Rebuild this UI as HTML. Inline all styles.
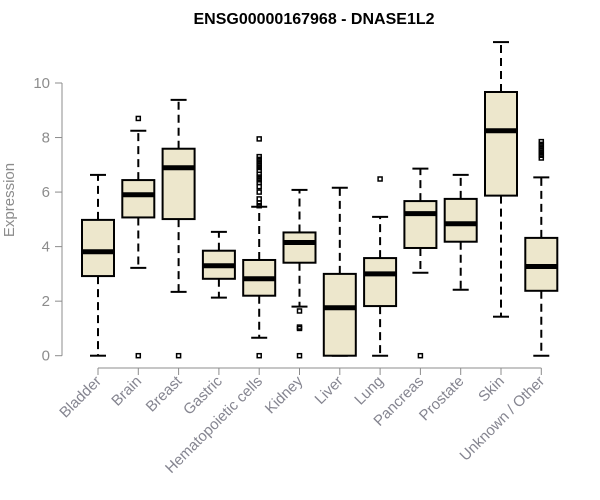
<!DOCTYPE html>
<html><head><meta charset="utf-8"><style>
body{margin:0;background:#fff;}
svg{display:block;font-family:"Liberation Sans",Arial,sans-serif;}
</style></head><body>
<svg id="chart" width="600" height="500">
<text x="314" y="24" text-anchor="middle" font-size="16" font-weight="bold">ENSG00000167968 - DNASE1L2</text>
<text transform="translate(14,200) rotate(-90)" text-anchor="middle" font-size="15" fill="#8c8c8c">Expression</text>
<g id="yaxis"></g>
<g id="xaxis"></g>
<g id="boxes"></g>
</svg>
<script>
const categories=["Bladder","Brain","Breast","Gastric","Hematopoietic cells","Kidney","Liver","Lung","Pancreas","Prostate","Skin","Unknown / Other"];
const whiskerLow=[0,3.22,2.34,2.13,0.66,1.80,0,0,3.04,2.42,1.43,0];
const q1=[2.92,5.07,5.01,2.82,2.20,3.41,0,1.82,3.95,4.18,5.87,2.38];
const median=[3.81,5.90,6.89,3.30,2.82,4.15,1.76,3.0,5.21,4.84,8.25,3.27];
const q3=[4.98,6.44,7.59,3.85,3.51,4.52,3.0,3.58,5.67,5.75,9.67,4.32];
const whiskerHigh=[6.63,8.25,9.38,4.54,5.46,6.08,6.16,5.09,6.86,6.63,11.5,6.54];
const outliers=[[],[8.7,0],[0],[],[0,5.5,5.6,5.75,6.0,6.2,6.35,6.45,6.55,6.65,6.8,6.9,7.0,7.1,7.2,7.3,7.95],[1.64,1.0,1.05,0],[],[6.48],[0],[],[],[7.25,7.35,7.45,7.55,7.65,7.75,7.85]];
const yTicks=[0,2,4,6,8,10];

const NS="http://www.w3.org/2000/svg";
function y(v){return 355.7-v*27.27;}
function x(i){return 98+i*40.3;}
function mk(tag,attrs,parent){const e=document.createElementNS(NS,tag);for(const k in attrs)e.setAttribute(k,attrs[k]);parent.appendChild(e);return e;}
const ya=document.getElementById('yaxis'),xa=document.getElementById('xaxis'),bx=document.getElementById('boxes');
let l=mk('line',{x1:62,x2:62,y1:y(0),y2:y(10),stroke:'#8c8c8c','stroke-width':1},ya);


yTicks.forEach(t=>{
 const tk=mk('line',{x1:55,x2:62,y1:y(t),y2:y(t),stroke:'#8c8c8c'},ya);
 
 
 const tx=mk('text',{x:50,y:y(t)+5,'text-anchor':'end','font-size':15,fill:'#8c8c8c'},ya);
 tx.textContent=t;
 
 
});
const xl=mk('line',{x1:x(0),x2:x(categories.length-1),y1:368,y2:368,stroke:'#8c8c8c'},xa);


categories.forEach((c,i)=>{
 const cx=x(i),w=16;
 const tk=mk('line',{x1:cx,x2:cx,y1:368,y2:375,stroke:'#8c8c8c'},xa);
 
 
 const tx=mk('text',{x:cx+4,y:382,'text-anchor':'end','font-size':15,fill:'#858590',transform:`rotate(-45 ${cx+4} 382)`},xa);
 tx.textContent=c;
 
 
 const g=mk('g',{},bx);
 
 
 mk('line',{x1:cx,x2:cx,y1:y(q3[i]),y2:y(whiskerHigh[i]),stroke:'#000','stroke-width':2,'stroke-dasharray':'8,5'},g);
 mk('line',{x1:cx,x2:cx,y1:y(q1[i]),y2:y(whiskerLow[i]),stroke:'#000','stroke-width':2,'stroke-dasharray':'8,5'},g);
 mk('line',{x1:cx-8,x2:cx+8,y1:y(whiskerHigh[i]),y2:y(whiskerHigh[i]),stroke:'#000','stroke-width':2},g);
 mk('line',{x1:cx-8,x2:cx+8,y1:y(whiskerLow[i]),y2:y(whiskerLow[i]),stroke:'#000','stroke-width':2},g);
 mk('rect',{x:cx-w,y:y(q3[i]),width:2*w,height:y(q1[i])-y(q3[i]),fill:'#ede7cc',stroke:'#000','stroke-width':2},g);
 mk('line',{x1:cx-w,x2:cx+w,y1:y(median[i]),y2:y(median[i]),stroke:'#000','stroke-width':5},g);
 outliers[i].forEach(o=>{
  const p=mk('rect',{x:cx-2,y:y(o)-2,width:4,height:4,fill:'none',stroke:'#000','stroke-width':1.5},g);
  
  
 });
});
</script>
</body></html>
